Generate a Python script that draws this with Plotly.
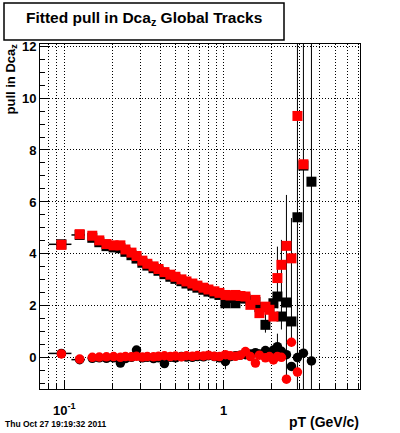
import plotly.graph_objects as go

# pT bin centres (GeV/c)
pt = [0.096, 0.125, 0.150, 0.166, 0.184, 0.204, 0.225, 0.242, 0.264, 0.284,
      0.309, 0.332, 0.363, 0.390, 0.425, 0.463, 0.498, 0.543, 0.584, 0.636,
      0.684, 0.746, 0.802, 0.874, 0.940, 1.025, 1.102, 1.184, 1.273, 1.368,
      1.470, 1.580, 1.674, 1.826, 1.934, 2.049, 2.171, 2.300, 2.473, 2.658,
      2.898, 3.160, 3.547]

# fitted sigma of the pull (squares)
sig_black = [4.37, 4.73, 4.62, 4.45, 4.30, 4.25, 4.22, 4.08, 3.95, 3.82,
             3.66, 3.55, 3.45, 3.35, 3.22, 3.12, 3.04, 2.95, 2.86, 2.78,
             2.70, 2.62, 2.55, 2.48, 2.42, 2.10, 2.30, 2.10, 2.30, 2.28,
             2.20, 2.15, 1.95, 1.27, 1.95, 2.10, 2.36, 1.59, 2.13, 1.40,
             5.41, 7.40, 6.78]
sig_black_errp = [0.05] * 33 + [0.6, 0.05, 0.05, 1.92, 2.95, 4.14, 3.98, 20, 20, 20]
sig_black_errm = [0.05] * 33 + [0.3, 0.05, 0.05, 0.45, 0.5, 2.85, 0.97, 20, 20, 20]
sig_red = [4.35, 4.76, 4.70, 4.52, 4.38, 4.33, 4.33, 4.17, 4.05, 3.92,
           3.74, 3.62, 3.52, 3.42, 3.30, 3.20, 3.12, 3.02, 2.94, 2.86,
           2.78, 2.70, 2.63, 2.56, 2.50, 2.42, 2.40, 2.42, 2.38, 2.36,
           2.04, 2.23, 1.72, 1.97, 1.85, 1.59, 3.07, 3.58, 4.31, 3.83,
           9.31, 7.45, None]

# fitted mean of the pull (circles)
mean_black = [0.17, -0.07, -0.02, 0.00, -0.02, 0.00, -0.20, -0.03, 0.02, 0.30,
              0.00, 0.02, -0.03, 0.00, -0.22, 0.02, 0.00, 0.05, 0.03, 0.02,
              0.05, 0.04, 0.08, 0.05, 0.00, -0.14, 0.05, 0.08, 0.10, 0.12,
              0.15, 0.20, 0.15, 0.28, 0.20, 0.30, 0.43, 0.25, 0.12, -0.33,
              0.01, 0.18, -0.12]
mean_black_err = [0.05] * 25 + [0.3] + [0.05] * 10 + [0.5] + [0.05] * 6
mean_red = [0.15, -0.05, 0.02, 0.03, 0.04, 0.05, 0.02, 0.05, 0.04, 0.06,
            0.03, 0.05, 0.04, 0.06, 0.08, 0.05, 0.07, 0.04, 0.08, 0.06,
            0.09, 0.07, 0.10, 0.06, 0.05, 0.12, 0.08, 0.06, 0.10, 0.24,
            0.05, -0.20, 0.10, 0.00, 0.05, -0.08, 0.05, 0.02, -0.82, 0.60,
            -0.55, None, None]

# horizontal bin half-widths (only the wide first bins are visible)
bin_lo = [0.016, 0.014] + [0.0] * 41
bin_hi = [0.015, 0.010] + [0.0] * 41

x_minor = [0.08, 0.09, 0.2, 0.3, 0.4, 0.5, 0.6, 0.7, 0.8, 0.9, 2, 3, 4, 5, 6, 7]
x_major = [0.1, 1]
x_major_text = ["10<sup>-1</sup>", "1"]

BOLD = dict(family="Liberation Sans, Arial, sans-serif", weight="bold", color="black")

fig = go.Figure()
fig.add_trace(go.Scatter(
    x=pt, y=sig_black, mode="markers",
    marker=dict(symbol="square", size=10, color="black"),
    error_y=dict(type="data", symmetric=False, array=sig_black_errp, arrayminus=sig_black_errm,
                 color="black", thickness=1, width=0),
    error_x=dict(type="data", symmetric=False, array=bin_hi, arrayminus=bin_lo,
                 color="black", thickness=1.5, width=0),
    showlegend=False))
fig.add_trace(go.Scatter(
    x=pt, y=mean_black, mode="markers",
    marker=dict(symbol="circle", size=9.5, color="black"),
    error_y=dict(type="data", array=mean_black_err, color="black", thickness=1, width=0),
    error_x=dict(type="data", symmetric=False, array=bin_hi, arrayminus=bin_lo,
                 color="black", thickness=1.5, width=0),
    showlegend=False))
fig.add_trace(go.Scatter(
    x=pt, y=sig_red, mode="markers",
    marker=dict(symbol="square", size=10, color="#ff0000"),
    showlegend=False))
fig.add_trace(go.Scatter(
    x=pt, y=mean_red, mode="markers",
    marker=dict(symbol="circle", size=9.5, color="#ff0000"),
    showlegend=False))

grid = dict(gridcolor="black", gridwidth=1, griddash="1px,2px")

fig.update_xaxes(
    type="log", range=[-1.1518, 0.8543],
    tickmode="array", tickvals=x_major, ticktext=x_major_text,
    ticks="inside", ticklen=9, tickcolor="black", tickwidth=1,
    showline=True, linecolor="black", linewidth=1, mirror=True,
    showgrid=True, **grid,
    minor=dict(tickmode="array", tickvals=x_minor, ticks="inside", ticklen=5,
               tickcolor="black", showgrid=True, gridcolor="black", griddash="1px,2px", gridwidth=1),
    tickfont=dict(size=13, **BOLD), zeroline=False, ticklabelstandoff=9,
)
fig.update_yaxes(
    range=[-1.2, 12.08], tickmode="linear", tick0=0, dtick=2,
    ticks="inside", ticklen=9, tickcolor="black", tickwidth=1,
    showline=True, linecolor="black", linewidth=1, mirror=True,
    showgrid=True, **grid,
    minor=dict(dtick=0.5, ticks="inside", ticklen=5, tickcolor="black", showgrid=False),
    tickfont=dict(size=13, **BOLD), zeroline=False,
)

W, H = 400, 433
L, R, T, B = 40, 40, 44, 44
pw, ph = W - L - R, H - T - B
def px(x):
    return (x - L) / pw
def py(y):
    return (H - B - y) / ph

fig.add_shape(type="rect", xref="paper", yref="paper",
              x0=px(4), x1=px(284), y0=py(40), y1=py(3),
              line=dict(color="black", width=1.5), fillcolor="white")

fig.update_layout(
    width=W, height=H, margin=dict(l=L, r=R, t=T, b=B),
    paper_bgcolor="white", plot_bgcolor="white",
    annotations=[
        dict(text="Fitted pull in Dca<sub>z</sub> Global Tracks", xref="paper", yref="paper",
             x=px(144), y=py(19), xanchor="center", yanchor="middle", showarrow=False,
             font=dict(size=15.5, **BOLD)),
        dict(text="pull in Dca<sub>z</sub>", xref="paper", yref="paper",
             x=px(11), y=py(42), xanchor="center", yanchor="top", textangle=-90, showarrow=False,
             font=dict(size=13, **BOLD)),
        dict(text="pT (GeV/c)", xref="paper", yref="paper",
             x=px(361), y=py(422), xanchor="right", yanchor="middle", showarrow=False,
             font=dict(size=14, **BOLD)),
        dict(text="Thu Oct 27 19:19:32 2011", xref="paper", yref="paper",
             x=px(3), y=py(424), xanchor="left", yanchor="middle", showarrow=False,
             font=dict(size=8.5, **BOLD)),
    ],
)

fig.write_html("out.html", config={"displayModeBar": False},
               post_script="document.body.style.margin='0px';")
